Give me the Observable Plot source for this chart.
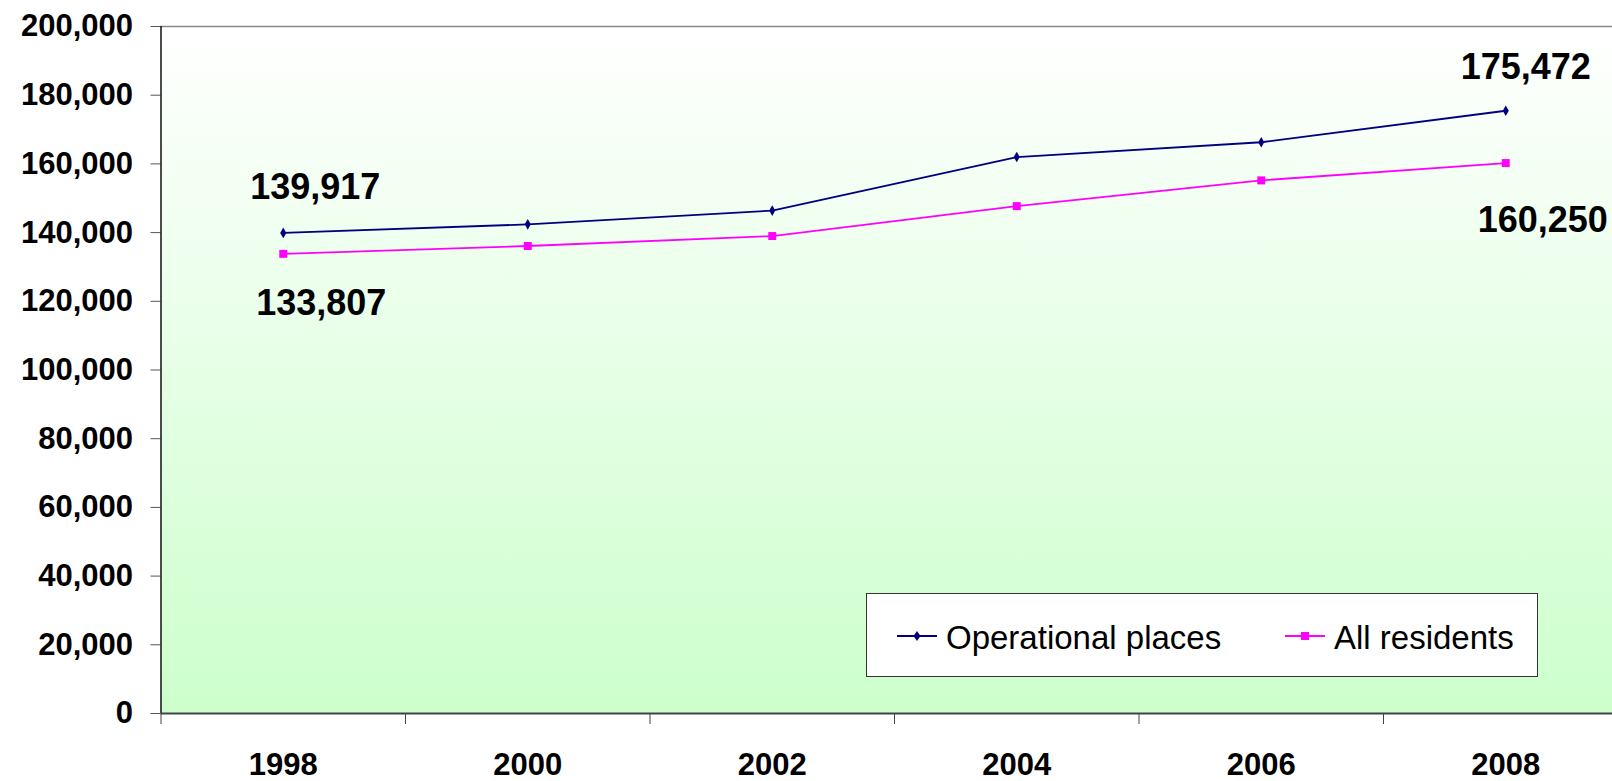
<!DOCTYPE html>
<html>
<head>
<meta charset="utf-8">
<script src="https://cdn.jsdelivr.net/npm/d3@7"></script>
<script src="https://cdn.jsdelivr.net/npm/@observablehq/plot@0.6"></script>
<style>
  html, body { margin: 0; padding: 0; overflow: hidden; background: #fff; width: 1612px; height: 781px; }
  #wrap { position: relative; width: 1612px; height: 781px; }
  #legend {
    position: absolute; left: 866px; top: 593px; width: 672px; height: 84px;
    background: #fff; border: 1.5px solid #333; box-sizing: border-box;
    font-family: Arial, "Liberation Sans", sans-serif; font-size: 33px; color: #000;
  }
  .item { position: absolute; top: 5px; height: 84px; display: flex; align-items: center; }
  .item svg { display: block; margin-right: 9px; margin-top: -4px; }
</style>
</head>
<body>
<div id="wrap"></div>
<script>
const years = [1998, 2000, 2002, 2004, 2006, 2008];
const operationalPlaces = [139917, 142400, 146400, 162000, 166300, 175472];
const allResidents = [133807, 136100, 139000, 147700, 155200, 160250];
const seriesNames = ["Operational places", "All residents"];
const seriesColors = ["#000080", "#ff00ff"];
const yTicks = [0, 20000, 40000, 60000, 80000, 100000, 120000, 140000, 160000, 180000, 200000];
const bandEdges = [1997, 1999, 2001, 2003, 2005, 2007, 2009];

const fmt = d3.format(",");
const rows = [
  ...years.map((y, i) => ({year: y, value: operationalPlaces[i], series: seriesNames[0]})),
  ...years.map((y, i) => ({year: y, value: allResidents[i], series: seriesNames[1]}))
];
const opRows = rows.filter(d => d.series === seriesNames[0]);
const resRows = rows.filter(d => d.series === seriesNames[1]);

const font = 'Arial, "Liberation Sans", sans-serif';

const plot = Plot.plot({
  width: 1640,
  height: 781,
  marginLeft: 160.5,
  marginRight: 12.5,
  marginTop: 26,
  marginBottom: 68,
  style: {maxWidth: "none", fontFamily: font, background: "transparent", overflow: "visible"},
  x: {type: "linear", domain: [1997, 2009]},
  y: {domain: [0, 200000]},
  marks: [
    () => {
      const defs = d3.create("svg:defs");
      const g = defs.append("linearGradient").attr("id", "bg")
        .attr("x1", 0).attr("y1", 0).attr("x2", 0).attr("y2", 1);
      g.append("stop").attr("offset", "0%").attr("stop-color", "#ffffff");
      g.append("stop").attr("offset", "100%").attr("stop-color", "#ccffcc");
      return defs.node();
    },
    Plot.frame({fill: "url(#bg)", stroke: null}),
    Plot.ruleY([200000], {stroke: "#888", strokeWidth: 1.5}),
    Plot.axisY({
      ticks: yTicks, tickFormat: fmt, tickSize: 10, tickPadding: 18,
      fontSize: 31, fontWeight: "bold", stroke: "#555", color: "#000", label: null
    }),
    Plot.axisX({
      ticks: bandEdges, tickFormat: () => "", tickSize: 11, stroke: "#444", label: null
    }),
    Plot.axisX({
      ticks: years, tickFormat: d => String(d), tickSize: 0, tickPadding: 39,
      fontSize: 31, fontWeight: "bold", color: "#000", label: null
    }),
    Plot.ruleX([1997], {stroke: "#111", strokeWidth: 1.5}),
    Plot.ruleY([0], {stroke: "#444", strokeWidth: 2.2}),
    Plot.line(opRows, {x: "year", y: "value", stroke: seriesColors[0], strokeWidth: 1.8}),
    Plot.line(resRows, {x: "year", y: "value", stroke: seriesColors[1], strokeWidth: 1.8}),
    Plot.dot(opRows, {x: "year", y: "value", symbol: "diamond", r: 3.2, fill: seriesColors[0], stroke: null}),
    Plot.dot(resRows, {x: "year", y: "value", symbol: "square", r: 4.5, fill: seriesColors[1], stroke: null}),
    Plot.text([opRows[0]], {x: "year", y: "value", text: d => fmt(d.value), dx: 32, dy: -45, fontSize: 36, fontWeight: "bold", fill: "#000"}),
    Plot.text([resRows[0]], {x: "year", y: "value", text: d => fmt(d.value), dx: 38, dy: 50, fontSize: 36, fontWeight: "bold", fill: "#000"}),
    Plot.text([opRows[opRows.length - 1]], {x: "year", y: "value", text: d => fmt(d.value), dx: 20, dy: -43, fontSize: 36, fontWeight: "bold", fill: "#000"}),
    Plot.text([resRows[resRows.length - 1]], {x: "year", y: "value", text: d => fmt(d.value), dx: 37, dy: 57, fontSize: 36, fontWeight: "bold", fill: "#000"})
  ]
});

const wrap = document.getElementById("wrap");
wrap.appendChild(plot);

// Legend
const legend = document.createElement("div");
legend.id = "legend";
const itemLefts = [30, 418];
legend.style.overflow = "hidden";
seriesNames.forEach((name, i) => {
  const item = document.createElement("div");
  item.className = "item";
  item.style.left = itemLefts[i] + "px";
  item.style.top = "0px";
  item.style.height = "80px";
  item.style.paddingTop = "4px";
  const marker = i === 0
    ? `<polygon points="20,4 23.5,9 20,14 16.5,9" fill="${seriesColors[i]}"/>`
    : `<rect x="16" y="5" width="8" height="8" fill="${seriesColors[i]}"/>`;
  item.innerHTML = `<svg width="40" height="18"><line x1="0" y1="9" x2="40" y2="9" stroke="${seriesColors[i]}" stroke-width="1.8"/>${marker}</svg><span>${name}</span>`;
  legend.appendChild(item);
});
wrap.appendChild(legend);
</script>
</body>
</html>
